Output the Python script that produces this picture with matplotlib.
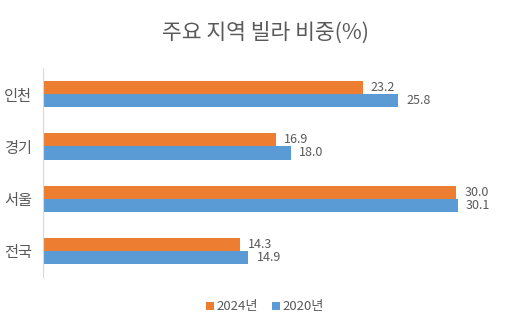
import matplotlib.pyplot as plt
import numpy as np

plt.rcParams['font.family'] = ['Noto Sans CJK KR', 'DejaVu Sans']

# ---------- DATA ----------
regions = ['전국', '서울', '경기', '인천']
vals_2024 = [14.3, 30.0, 16.9, 23.2]
vals_2020 = [14.9, 30.1, 18.0, 25.8]
series_names = ['2024년', '2020년']

orange = '#ED7D31'
blue = '#5B9BD5'
text_col = '#595959'

fig = plt.figure(figsize=(5.3, 3.29), dpi=100)
ax = fig.add_axes([0.081, 0.158, 0.91, 0.635])

y = np.arange(len(regions))
h = 0.25
b1 = ax.barh(y + h / 2, vals_2024, height=h, color=orange, label=series_names[0])
b2 = ax.barh(y - h / 2, vals_2020, height=h, color=blue, label=series_names[1])

for bars, vals in [(b1, vals_2024), (b2, vals_2020)]:
    for bar, v in zip(bars, vals):
        ax.text(v + 0.6, bar.get_y() + bar.get_height() / 2, f'{v:.1f}',
                va='center', ha='left', fontsize=9, color=text_col)

ax.set_xlim(0, 35)
ax.set_ylim(-0.5, 3.5)
ax.set_yticks(y)
ax.set_yticklabels(regions, fontsize=11, color=text_col)
ax.tick_params(axis='y', length=0, pad=8)
ax.set_xticks([])
for s in ['top', 'right', 'bottom']:
    ax.spines[s].set_visible(False)
ax.spines['left'].set_color('#d9d9d9')

fig.text(0.5, 0.9, '주요 지역 빌라 비중(%)', ha='center', va='center',
         fontsize=15.5, color=text_col)

fig.legend(loc='center', bbox_to_anchor=(0.5, 0.067), ncol=2, frameon=False,
           fontsize=9.5, handlelength=0.6, handleheight=0.6, handletextpad=0.2,
           columnspacing=1.0, labelcolor=text_col)

fig.savefig('out.png', dpi=100)
